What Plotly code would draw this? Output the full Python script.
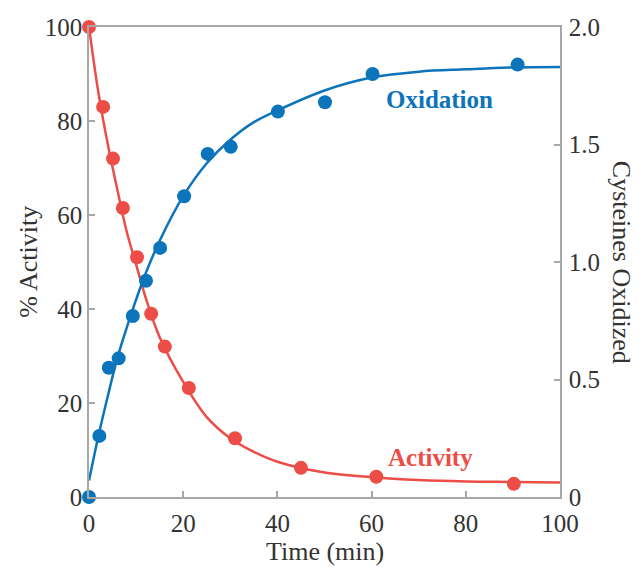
import plotly.graph_objects as go

# Measured data: % activity vs time
act_time = [0, 3, 5.1, 7.2, 10.2, 13.2, 16.1, 21.2, 31, 45, 61, 90.2]
act_value = [100, 83, 72, 61.5, 51, 39, 32, 23.2, 12.5, 6.2, 4.3, 2.8]

# Measured data: cysteines oxidized vs time
ox_time = [0, 2.2, 4.2, 6.3, 9.3, 12.1, 15.1, 20.2, 25.2, 30.1, 40.1, 50.1, 60.2, 91]
ox_value = [0, 0.26, 0.55, 0.59, 0.77, 0.92, 1.06, 1.28, 1.46, 1.49, 1.64, 1.68, 1.80, 1.84]

# Smooth trend curves
curve_time = [0, 2, 4, 6, 8, 10, 12, 15, 20, 25, 30, 35, 40, 50, 60, 70, 80, 90, 100]
act_curve = [100, 86, 75, 65.5, 56.5, 49.5, 42.5, 34, 24.5, 17, 12.5, 9.6, 7.5, 5.2, 4.2, 3.6, 3.3, 3.2, 3.1]
ox_curve = [0.07, 0.26, 0.43, 0.59, 0.72, 0.84, 0.95, 1.09, 1.28, 1.42, 1.52, 1.595, 1.645, 1.73, 1.785, 1.81, 1.82, 1.828, 1.83]

x_ticks = [0, 20, 40, 60, 80, 100]
left_ticks = [0, 20, 40, 60, 80, 100]
right_ticks = [0, 0.5, 1.0, 1.5, 2.0]
right_tick_text = ["0", "0.5", "1.0", "1.5", "2.0"]

RED = "#EC4D47"
BLUE = "#0C74BA"
AXIS = "#A8A8A8"
TEXT = "#333333"
FONT = "Liberation Serif"

fig = go.Figure()

fig.add_trace(go.Scatter(x=curve_time, y=act_curve, mode="lines", line=dict(color=RED, width=2.5, shape="spline"),
                         cliponaxis=False, showlegend=False, hoverinfo="skip"))
fig.add_trace(go.Scatter(x=act_time, y=act_value, mode="markers", marker=dict(color=RED, size=14),
                         cliponaxis=False, showlegend=False))
fig.add_trace(go.Scatter(x=curve_time, y=ox_curve, mode="lines", yaxis="y2",
                         line=dict(color=BLUE, width=2.5, shape="spline"),
                         cliponaxis=False, showlegend=False, hoverinfo="skip"))
fig.add_trace(go.Scatter(x=ox_time, y=ox_value, mode="markers", yaxis="y2", marker=dict(color=BLUE, size=14),
                         cliponaxis=False, showlegend=False))

axis_common = dict(showline=True, linecolor=AXIS, linewidth=1.5, ticks="inside", ticklen=6,
                   tickcolor=AXIS, tickwidth=1.5, showgrid=False, zeroline=False,
                   tickfont=dict(family=FONT, size=25, color=TEXT))

fig.update_layout(
    width=639, height=567,
    margin=dict(l=89, r=79, t=27, b=70),
    plot_bgcolor="white", paper_bgcolor="white",
    xaxis=dict(range=[0, 100], tickvals=x_ticks, mirror=True, ticklabelstandoff=3, **axis_common),
    yaxis=dict(range=[0, 100], tickvals=left_ticks, **axis_common),
    yaxis2=dict(range=[0, 2.0], tickvals=right_ticks, ticktext=right_tick_text, overlaying="y",
                side="right", ticklabelstandoff=2, **axis_common),
    annotations=[
        dict(text="Time (min)", x=0.5, y=-0.115, xref="paper", yref="paper", showarrow=False,
             font=dict(family=FONT, size=26, color=TEXT), yanchor="middle"),
        dict(text="% Activity", x=-0.13, y=0.5, xref="paper", yref="paper", showarrow=False,
             textangle=-90, font=dict(family=FONT, size=26, color=TEXT), xanchor="center"),
        dict(text="Cysteines Oxidized", x=1.132, y=0.5, xref="paper", yref="paper", showarrow=False,
             textangle=90, font=dict(family=FONT, size=26, color=TEXT), xanchor="center"),
        dict(text="<b>Oxidation</b>", x=74.5, y=1.69, xref="x", yref="y2", showarrow=False,
             font=dict(family=FONT, size=25, color=BLUE)),
        dict(text="<b>Activity</b>", x=72.5, y=8.5, xref="x", yref="y", showarrow=False,
             font=dict(family=FONT, size=25, color=RED)),
    ],
)

fig.write_html("out.html")
